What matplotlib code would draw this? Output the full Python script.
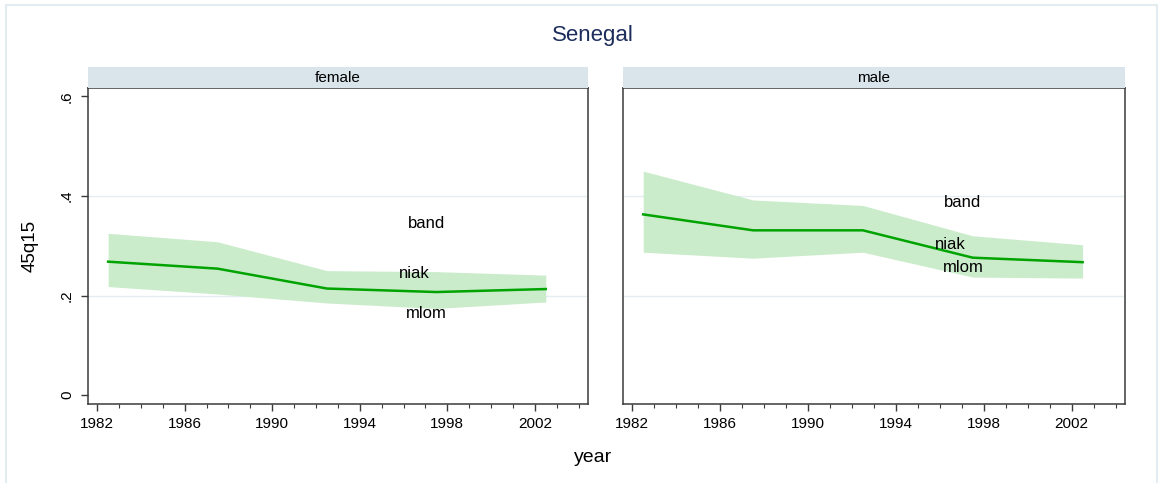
import matplotlib
matplotlib.use("Agg")
import matplotlib.pyplot as plt
from matplotlib.patches import Rectangle
from matplotlib.lines import Line2D
from matplotlib.ticker import MultipleLocator

plt.rcParams['font.family'] = ['Liberation Sans', 'DejaVu Sans']

# ---- data ----
years = [1982.5, 1987.5, 1992.5, 1997.5, 2002.5]
panels = ["female", "male"]
female_est = [0.268, 0.254, 0.214, 0.207, 0.213]
female_hi = [0.325, 0.308, 0.250, 0.248, 0.241]
female_lo = [0.218, 0.203, 0.185, 0.174, 0.187]
male_est = [0.363, 0.331, 0.331, 0.276, 0.267]
male_hi = [0.450, 0.392, 0.381, 0.320, 0.302]
male_lo = [0.287, 0.275, 0.287, 0.237, 0.235]
label_names = ["band", "niak", "mlom"]
label_x = [1997.05, 1996.5, 1997.05]
female_label_y = [0.344, 0.245, 0.163]
male_label_y = [0.387, 0.303, 0.256]
x_ticks = [1982, 1986, 1990, 1994, 1998, 2002]
y_ticks = [0, 0.2, 0.4, 0.6]
y_ticklabels = ["0", ".2", ".4", ".6"]
grid_y = [0.2, 0.4]

W, H = 1159, 483
fig = plt.figure(figsize=(W / 100, H / 100), dpi=100)
fig.patch.set_facecolor("white")

# outer light frame
fig.add_artist(Line2D([6 / W, 6 / W], [0, 1 - 5 / H], transform=fig.transFigure, color="#e3ecf0", lw=1.5))
fig.add_artist(Line2D([6 / W, 1157 / W], [1 - 5 / H, 1 - 5 / H], transform=fig.transFigure, color="#e3ecf0", lw=1.5))
fig.add_artist(Line2D([1157 / W, 1157 / W], [0, 1 - 5 / H], transform=fig.transFigure, color="#e3ecf0", lw=1.5))

line_col = "#00a300"
fill_col = "#cbeccb"
spine_col = "#3a3a3a"
strip_col = "#d9e5eb"

data = {
    "female": (female_est, female_lo, female_hi, female_label_y),
    "male": (male_est, male_lo, male_hi, male_label_y),
}
lefts = [88, 623]
rights = [588, 1125]
top_px, bot_px = 88, 404
strip_top = 67

for i, name in enumerate(panels):
    l, r = lefts[i], rights[i]
    ax = fig.add_axes([l / W, 1 - bot_px / H, (r - l) / W, (bot_px - top_px) / H])
    est, lo, hi, ly = data[name]
    for g in grid_y:
        ax.axhline(g, color="#e4eef1", lw=1, zorder=0)
    ax.fill_between(years, lo, hi, color=fill_col, lw=0, zorder=1)
    ax.plot(years, est, color=line_col, lw=1.8, zorder=2)
    for t, xx, yy in zip(label_names, label_x, ly):
        ax.text(xx, yy, t, ha="center", va="center", fontsize=12, color="black", zorder=3)
    ax.set_xlim(1981.58, 2004.43)
    ax.set_ylim(-0.018, 0.617)
    ax.set_xticks(x_ticks)
    ax.set_xticklabels([str(v) for v in x_ticks], fontsize=11)
    ax.xaxis.set_minor_locator(MultipleLocator(1))
    ax.tick_params(axis="x", which="major", length=5, width=1, color=spine_col, pad=4)
    ax.tick_params(axis="x", which="minor", length=3, width=0.8, color=spine_col)
    if i == 0:
        ax.set_yticks(y_ticks)
        ax.set_yticklabels(y_ticklabels, fontsize=11, rotation=90, va="center")
        ax.tick_params(axis="y", length=5, width=1, color=spine_col, pad=5)
    else:
        ax.set_yticks([])
    for s in ax.spines.values():
        s.set_color(spine_col)
        s.set_linewidth(1.1)
    # strip
    fig.add_artist(Rectangle((l / W, 1 - top_px / H), (r - l) / W, (top_px - strip_top) / H,
                             transform=fig.transFigure, facecolor=strip_col, edgecolor="none"))
    fig.text((l + r) / 2 / W, 1 - (strip_top + top_px) / 2 / H, name, ha="center", va="center",
             fontsize=11, color="black")

fig.text(593 / W, 1 - 35 / H, "Senegal", ha="center", va="center", fontsize=16, color="#1c2d5c")
fig.text(593 / W, 1 - 458 / H, "year", ha="center", va="center", fontsize=14, color="black")
fig.text(30 / W, 1 - 246 / H, "45q15", ha="center", va="center", rotation=90, fontsize=13.5, color="black")

fig.savefig("out.png", dpi=100, facecolor="white")
